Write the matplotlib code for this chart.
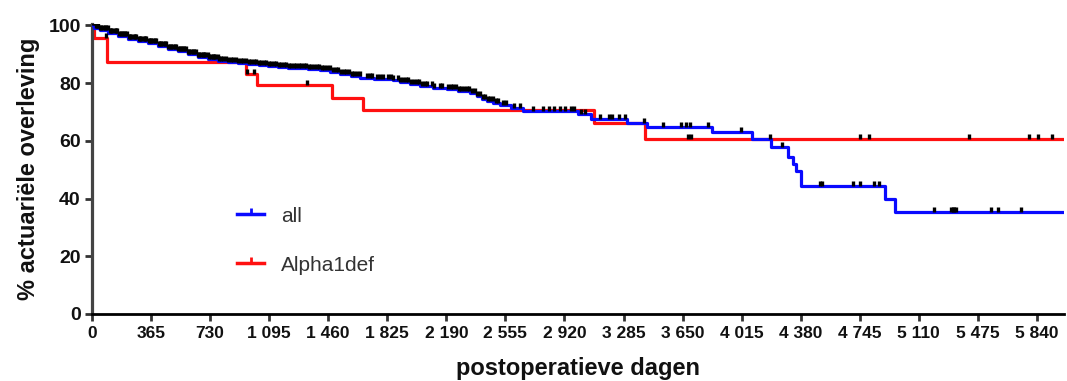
import numpy as np
import matplotlib.pyplot as plt
from matplotlib.lines import Line2D

plt.rcParams['font.family'] = ['Liberation Sans', 'DejaVu Sans']

# Kaplan-Meier steps for all patients (day, survival % after that day)
all_days = [0, 15, 50, 99, 160, 222, 285, 346, 410, 470, 530, 593, 655, 717,
            780, 841, 900, 964, 1030, 1088, 1150, 1211, 1280, 1335, 1409, 1470,
            1533, 1600, 1657, 1740, 1860, 1904, 1965, 2027, 2110, 2192, 2260,
            2336, 2378, 2410, 2440, 2480, 2522, 2590, 2666, 3003, 3081, 3304,
            3428, 3830, 4076, 4198, 4299, 4330, 4350, 4380, 4902, 4963]
all_surv = [100, 99.2, 98.5, 97.3, 96.4, 95.4, 94.6, 93.8, 92.9, 92.0, 91.1,
            90.2, 89.2, 88.3, 87.8, 87.3, 86.9, 86.6, 86.3, 86.0, 85.7, 85.4,
            85.1, 84.8, 84.5, 84.0, 83.2, 82.5, 81.8, 81.6, 81.0, 80.4, 79.7,
            79.0, 78.4, 77.8, 77.3, 76.7, 75.5, 74.6, 73.8, 73.0, 72.4, 71.4,
            70.3, 69.2, 67.5, 66.3, 64.8, 62.9, 60.6, 57.7, 54.4, 52.0, 49.7,
            44.5, 39.7, 35.5]
all_censored = [5, 14, 22, 30, 38, 51, 58, 66, 80, 88, 97, 110, 118, 126, 141,
                148, 155, 170, 178, 186, 199, 207, 215, 230, 237, 244, 260, 268,
                275, 290, 298, 306, 320, 328, 335, 351, 358, 366, 380, 389, 397,
                412, 420, 428, 441, 450, 458, 472, 480, 487, 503, 510, 518, 533,
                541, 549, 563, 570, 578, 594, 602, 610, 624, 632, 640, 655, 663,
                671, 686, 693, 700, 716, 725, 733, 748, 755, 762, 779, 787, 795,
                810, 826, 842, 858, 873, 890, 905, 921, 936, 952, 968, 984, 1000,
                1015, 1030, 1046, 1062, 1077, 1092, 1108, 1124, 1140, 1155, 1170,
                1186, 1201, 1216, 1232, 1247, 1262, 1278, 1294, 1310, 1325, 1340,
                1356, 1372, 1388, 1404, 1420, 1436, 1452, 1468, 1490, 1506, 1522,
                1540, 1556, 1572, 1590, 1606, 1622, 1640, 1656, 1700, 1716, 1730,
                1760, 1780, 1797, 1830, 1846, 1862, 1890, 1906, 1922, 1940, 1956,
                1972, 1990, 2006, 2022, 2040, 2056, 2072, 2100, 2116, 2150, 2166,
                2200, 2216, 2232, 2250, 2266, 2282, 2300, 2316, 2332, 2350, 2366,
                2382, 2398, 2414, 2430, 2446, 2462, 2478, 2494, 2510, 2543, 2556,
                2611, 2645, 2723, 2790, 2824, 2857, 2891, 2924, 2958, 2980, 3023,
                3047, 3137, 3193, 3214, 3258, 3293, 3528, 3640, 3672, 3697, 3808,
                4008, 4190, 4265, 4500, 4512, 4704, 4747, 4834, 4865, 5201, 5309,
                5320, 5328, 5340, 5557, 5600, 5742]

# Alpha1def group
a1_days = [0, 10, 91, 953, 1017, 1485, 1677, 3103, 3416]
a1_surv = [100, 95.8, 87.5, 83.3, 79.2, 75.0, 70.8, 66.3, 60.7]
a1_censored = [85, 960, 1000, 1326, 3410, 3684, 3700, 4747, 4803, 5420, 5792,
               5847, 5931]

last_followup = 6000
xticks = list(range(0, 5841, 365))
yticks = [0, 20, 40, 60, 80, 100]


def step_xy(days, surv, end):
    return np.append(days, end), np.append(surv, surv[-1])


def level_at(days, surv, t):
    idx = np.searchsorted(days, t, side='right') - 1
    return np.asarray(surv)[idx]


fig = plt.figure(figsize=(10.67, 3.81), dpi=100)
ax = fig.add_axes([0.0862, 0.176, 0.911, 0.761])

blue = '#0a0aff'
red = '#ff1010'

x, y = step_xy(a1_days, a1_surv, last_followup)
ax.step(x, y, where='post', color=red, lw=2.3, zorder=2)
x, y = step_xy(all_days, all_surv, last_followup)
ax.step(x, y, where='post', color=blue, lw=2.3, zorder=3)

# censor ticks
ax.plot(a1_censored, level_at(a1_days, a1_surv, a1_censored), ls='none',
        marker=2, ms=3.8, mew=2.4, color='black', zorder=4)
ax.plot(all_censored, level_at(all_days, all_surv, all_censored), ls='none',
        marker=2, ms=3.8, mew=2.4, color='black', zorder=4)

ax.set_xlim(0, 6007)
ax.set_ylim(0, 100.5)
ax.set_xticks(xticks)
ax.set_xticklabels([f"{t:,}".replace(',', ' ') for t in xticks])
ax.set_yticks(yticks)

for s in ['top', 'right']:
    ax.spines[s].set_visible(False)
ax.spines['left'].set_color('#444444')
ax.spines['left'].set_linewidth(2.3)
ax.spines['bottom'].set_color('black')
ax.spines['bottom'].set_linewidth(2.0)

ax.tick_params(axis='x', direction='out', length=5, width=2.0, color='#333333',
               pad=4, labelsize=12.5)
ax.tick_params(axis='y', direction='out', length=5, width=2.0, color='#333333',
               pad=3, labelsize=14)
for lab in ax.get_xticklabels() + ax.get_yticklabels():
    lab.set_fontweight('bold')
    lab.set_color('#111111')

ax.set_xlabel('postoperatieve dagen', fontsize=17, fontweight='bold',
              color='#111111', labelpad=11)
ax.set_ylabel('% actuariële overleving', fontsize=17, fontweight='bold',
              color='#111111', labelpad=6)

handles = [Line2D([], [], color=blue, lw=2.5, marker=2, ms=4, mew=2),
           Line2D([], [], color=red, lw=2.5, marker=2, ms=4, mew=2)]
ax.legend(handles, ['all', 'Alpha1def'], loc='upper left',
          bbox_to_anchor=(0.13, 0.435), frameon=False, fontsize=15,
          handlelength=1.3, handletextpad=0.8, labelspacing=1.45,
          labelcolor='#333333')

fig.savefig('out.png', dpi=100)
